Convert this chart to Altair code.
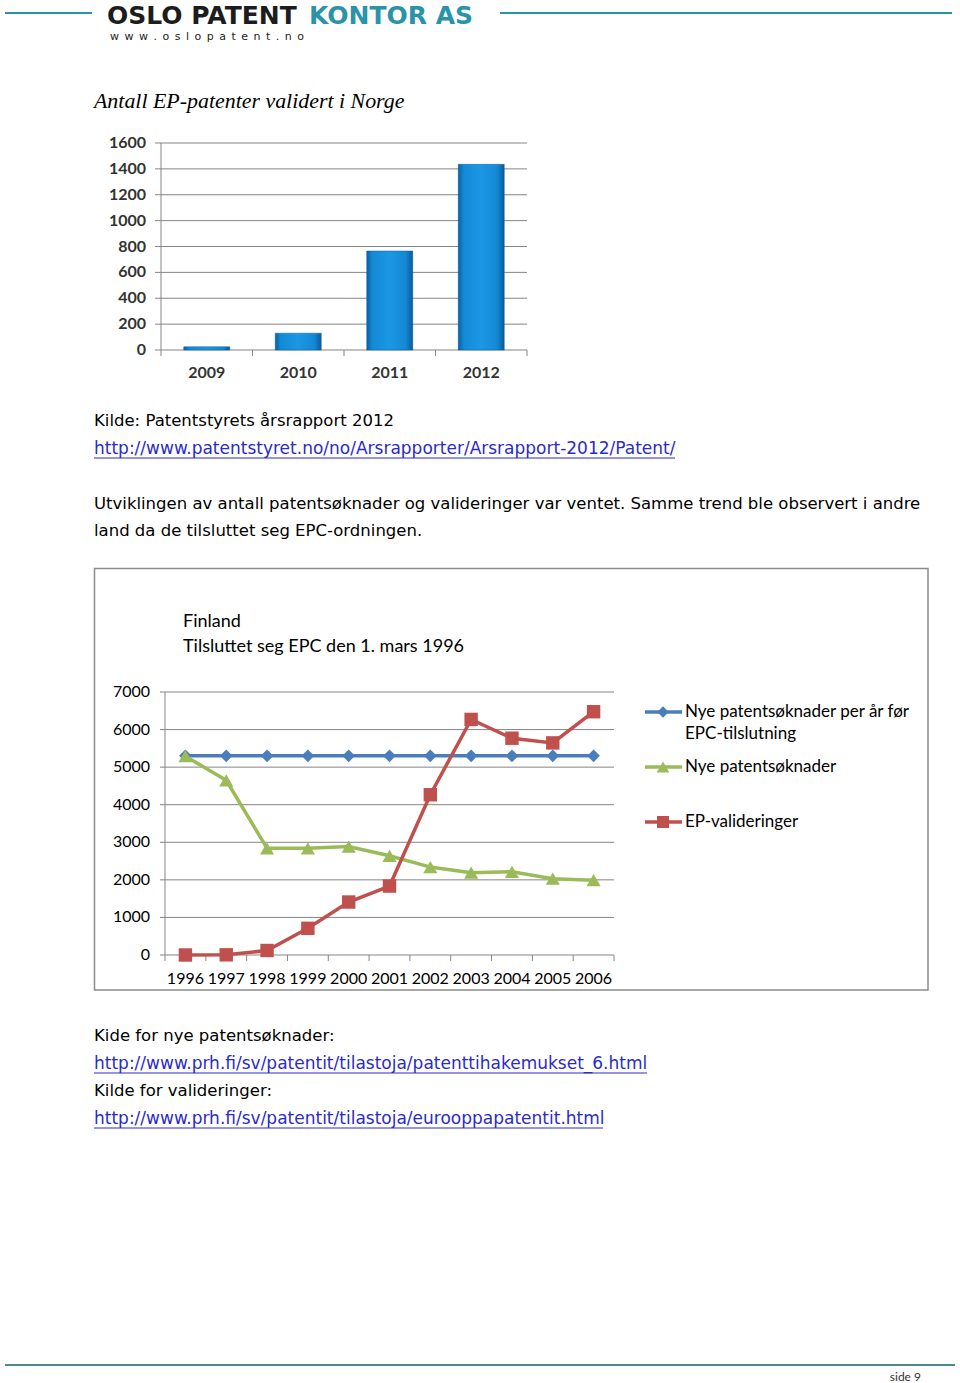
import altair as alt
import pandas as pd

# ---------------- data ----------------
bar_years = ["2009", "2010", "2011", "2012"]
bar_values = [25, 130, 765, 1435]
bar_ticks = [0, 200, 400, 600, 800, 1000, 1200, 1400, 1600]

line_years = ["1996", "1997", "1998", "1999", "2000", "2001",
              "2002", "2003", "2004", "2005", "2006"]
before_epc = [5300, 5300, 5300, 5300, 5300, 5300, 5300, 5300, 5300, 5300, 5300]
new_apps = [5290, 4650, 2840, 2840, 2885, 2640, 2340, 2190, 2215, 2030, 1990]
ep_valid = [0, 5, 120, 710, 1410, 1835, 4265, 6270, 5770, 5645, 6475]
line_ticks = [0, 1000, 2000, 3000, 4000, 5000, 6000, 7000]

series_names = ["Nye patentsøknader per år før EPC-tilslutning",
                "Nye patentsøknader", "EP-valideringer"]

dummy = pd.DataFrame({"d": [0]})

BODY = "DejaVu Sans"
CAL = "Lato"
BS = 16.5   # body text size
LS = 17     # link text size


def txt(s, x, y, size=BS, font=BODY, color="#000000", align="left",
        weight="normal", style="normal", baseline="middle"):
    return alt.Chart(dummy).mark_text(
        text=s, fontSize=size, font=font, color=color, align=align,
        baseline=baseline, fontWeight=weight, fontStyle=style
    ).encode(x=alt.value(x), y=alt.value(y))


def hline(x1, x2, y, color, w=1.0):
    return alt.Chart(dummy).mark_rule(color=color, strokeWidth=w).encode(
        x=alt.value(x1), x2=alt.value(x2), y=alt.value(y))


# ---------------- page decorations ----------------
TEAL = "#2a93a8"
LINK = "#2b2bc8"
www = "\u2002".join(list("www.oslopatent.no"))
decor = [
    hline(5, 92, 13, TEAL, 2),
    hline(500, 952, 13, TEAL, 2),
    txt("OSLO PATENT", 107, 24, size=25, color="#1d1d1d", weight="bold", baseline="alphabetic"),
    txt("KONTOR AS", 309, 24, size=25, color=TEAL, weight="bold", baseline="alphabetic"),
    txt(www, 110, 37, size=11, color="#222222"),
    txt("Antall EP-patenter validert i Norge", 94, 101, size=21.9,
        font="Liberation Serif", style="italic"),
    txt("Kilde: Patentstyrets årsrapport 2012", 94, 421),
    txt("http://www.patentstyret.no/no/Arsrapporter/Arsrapport-2012/Patent/", 94, 449,
        size=LS, color=LINK),
    hline(94, 675, 458, LINK, 1),
    txt("Utviklingen av antall patentsøknader og valideringer var ventet. Samme trend ble observert i andre",
        94, 504),
    txt("land da de tilsluttet seg EPC-ordningen.", 94, 531),
    # line chart frame
    alt.Chart(dummy).mark_rect(fill="transparent", stroke="#8c8c8c", strokeWidth=1.5).encode(
        x=alt.value(94.5), x2=alt.value(928), y=alt.value(568.5), y2=alt.value(990)),
    txt("Finland", 183, 622, size=18, font=CAL),
    txt("Tilsluttet seg EPC den 1. mars 1996", 183, 647, size=18, font=CAL),
    txt("Kide for nye patentsøknader:", 94, 1036),
    txt("http://www.prh.fi/sv/patentit/tilastoja/patenttihakemukset_6.html", 94, 1064,
        size=LS, color=LINK),
    hline(94, 647, 1073, LINK, 1),
    txt("Kilde for valideringer:", 94, 1091),
    txt("http://www.prh.fi/sv/patentit/tilastoja/eurooppapatentit.html", 94, 1119,
        size=LS, color=LINK),
    hline(94, 603, 1128, LINK, 1),
    hline(5, 955, 1365, "#4f8a92", 2),
    txt("side 9", 921, 1377, size=12, font=CAL, color="#333333", align="right"),
]

# ---------------- bar chart ----------------
bar_df = pd.DataFrame({"year": bar_years, "value": bar_values})
bt_df = pd.DataFrame({"t": bar_ticks})
bx = alt.Scale(type="band", domain=bar_years, range=[161, 527], paddingInner=0, paddingOuter=0)
by = alt.Scale(domain=[0, 1600], range=[350, 143], nice=False, zero=False)

GRID = "#858585"
bar_grid = alt.Chart(bt_df).mark_rule(color=GRID, strokeWidth=1).encode(
    y=alt.Y("t:Q", scale=by, axis=None), x=alt.value(155), x2=alt.value(527))
bar_yaxis = alt.Chart(bt_df).mark_rule(color=GRID, strokeWidth=1).encode(
    x=alt.value(161), y=alt.Y("min(t):Q", scale=by, axis=None), y2=alt.Y2("max(t):Q"))
bar_ylab = alt.Chart(bt_df).mark_text(
    font=CAL, fontSize=16, fontWeight="bold", color="#333333", align="right", baseline="middle"
).encode(y=alt.Y("t:Q", scale=by, axis=None), x=alt.value(146), text="t:Q")

bar_xticks = alt.Chart(bar_df).mark_rule(color=GRID).encode(
    x=alt.X("year:N", scale=bx, axis=None, bandPosition=0), y=alt.value(350), y2=alt.value(356))
bar_xtick_end = alt.Chart(bar_df).transform_filter(
    alt.datum.year == bar_years[-1]).mark_rule(color=GRID).encode(
    x=alt.X("year:N", scale=bx, axis=None, bandPosition=1), y=alt.value(350), y2=alt.value(356))
bar_xlab = alt.Chart(bar_df).mark_text(
    font=CAL, fontSize=16, fontWeight="bold", color="#333333", align="center", baseline="middle"
).encode(x=alt.X("year:N", scale=bx, axis=None, bandPosition=0.5), y=alt.value(373), text="year:N")

grad = alt.Gradient(
    gradient="linear", x1=0, x2=1, y1=0, y2=0,
    stops=[alt.GradientStop(color="#0a5f9f", offset=0),
           alt.GradientStop(color="#148ad6", offset=0.12),
           alt.GradientStop(color="#1b97e4", offset=0.5),
           alt.GradientStop(color="#1488d4", offset=0.85),
           alt.GradientStop(color="#0a5a96", offset=1)])
bars = alt.Chart(bar_df).mark_bar(size=46, color=grad, stroke="#0b5e98", strokeWidth=0.5).encode(
    x=alt.X("year:N", scale=bx, axis=None),
    y=alt.Y("value:Q", scale=by, axis=None))

bar_chart = alt.layer(bar_grid, bar_yaxis, bars, bar_xticks, bar_xtick_end, bar_ylab, bar_xlab)

# ---------------- line chart ----------------
lx = alt.Scale(type="band", domain=line_years, range=[165, 614], paddingInner=0, paddingOuter=0)
ly = alt.Scale(domain=[0, 7000], range=[955, 692], nice=False, zero=False)
lt_df = pd.DataFrame({"t": line_ticks})
ly_df = pd.DataFrame({"year": line_years})

line_grid = alt.Chart(lt_df).mark_rule(color=GRID, strokeWidth=1).encode(
    y=alt.Y("t:Q", scale=ly, axis=None), x=alt.value(160), x2=alt.value(614))
line_yaxis = alt.Chart(lt_df).mark_rule(color=GRID, strokeWidth=1).encode(
    x=alt.value(165), y=alt.Y("min(t):Q", scale=ly, axis=None), y2=alt.Y2("max(t):Q"))
line_ylab = alt.Chart(lt_df).mark_text(
    font=CAL, fontSize=16, color="#000000", align="right", baseline="middle"
).encode(y=alt.Y("t:Q", scale=ly, axis=None), x=alt.value(150), text="t:Q")
line_xticks = alt.Chart(ly_df).mark_rule(color=GRID).encode(
    x=alt.X("year:N", scale=lx, axis=None, bandPosition=0), y=alt.value(955), y2=alt.value(961))
line_xtick_end = alt.Chart(ly_df).transform_filter(
    alt.datum.year == line_years[-1]).mark_rule(color=GRID).encode(
    x=alt.X("year:N", scale=lx, axis=None, bandPosition=1), y=alt.value(955), y2=alt.value(961))
line_xlab = alt.Chart(ly_df).mark_text(
    font=CAL, fontSize=16, color="#000000", align="center", baseline="middle"
).encode(x=alt.X("year:N", scale=lx, axis=None, bandPosition=0.5), y=alt.value(979), text="year:N")

styles = [("#4a7ebb", "diamond", 160, before_epc),
          ("#9bbb59", "triangle-up", 200, new_apps),
          ("#c0504d", "square", 180, ep_valid)]

series_layers = []
for (col, shp, sz, vals), name in zip(styles, series_names):
    df = pd.DataFrame({"year": line_years, "value": vals, "series": name})
    base = alt.Chart(df).encode(
        x=alt.X("year:N", scale=lx, axis=None, bandPosition=0.5),
        y=alt.Y("value:Q", scale=ly, axis=None))
    series_layers.append(base.mark_line(color=col, strokeWidth=3.5))
    series_layers.append(base.mark_point(shape=shp, filled=True, size=sz, color=col, opacity=1))

line_chart = alt.layer(line_grid, line_yaxis, line_xticks, line_xtick_end,
                       *series_layers, line_ylab, line_xlab)

# ---------------- legend ----------------
legend = []
leg_y = [712, 767, 822]
for (col, shp, sz, _), name, yy in zip(styles, series_names, leg_y):
    legend.append(hline(645, 682, yy, col, 3.5))
    legend.append(alt.Chart(dummy).mark_point(shape=shp, filled=True, size=sz * 0.8,
                                              color=col, opacity=1).encode(
        x=alt.value(663), y=alt.value(yy)))
legend.append(txt("Nye patentsøknader per år før", 685, 712, size=17, font=CAL))
legend.append(txt("EPC-tilslutning", 685, 734, size=17, font=CAL))
legend.append(txt(series_names[1], 685, 767, size=17, font=CAL))
legend.append(txt(series_names[2], 685, 822, size=17, font=CAL))

chart = alt.layer(*decor, bar_chart, line_chart, *legend).resolve_scale(
    x="independent", y="independent"
).properties(
    width=960, height=1383, autosize=alt.AutoSizeParams(type="none"), padding=0,
    background="white"
).configure_view(stroke=None)

chart.save("out.html", embed_options={"renderer": "svg", "actions": False})
